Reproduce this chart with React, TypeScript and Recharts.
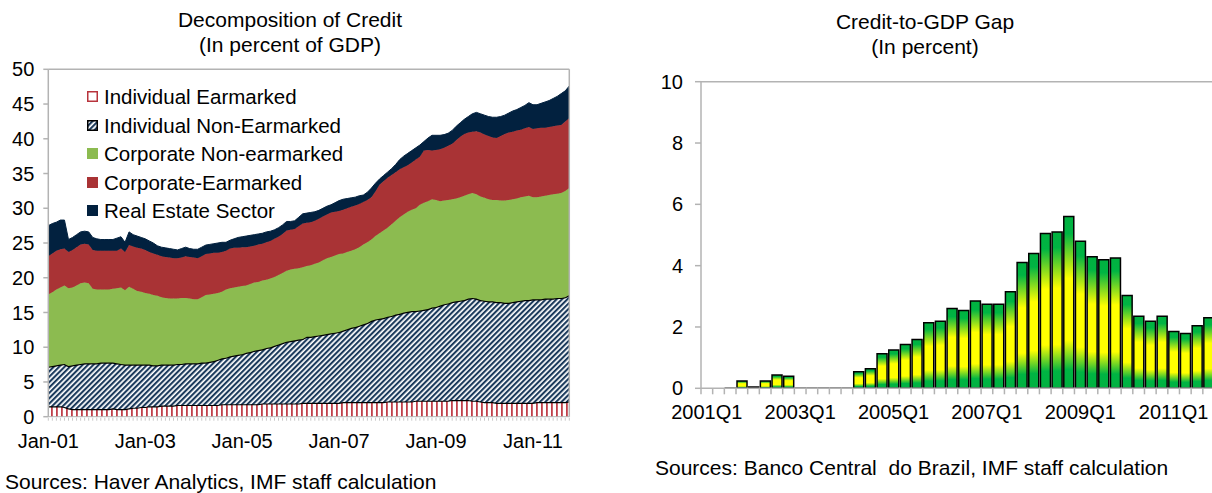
import React from 'react';
import { AreaChart, Area, BarChart, Bar, XAxis, YAxis, ReferenceLine } from 'recharts';

const FONT = '"Liberation Sans", Arial, sans-serif';

// ---- Decomposition of Credit (monthly, Jan-01 .. Oct-11) ----
const monthNames = ['Jan', 'Feb', 'Mar', 'Apr', 'May', 'Jun', 'Jul', 'Aug', 'Sep', 'Oct', 'Nov', 'Dec'];
const yearsShort = ['01', '02', '03', '04', '05', '06', '07', '08', '09', '10', '11'];
const months = yearsShort.flatMap((y) => monthNames.map((m) => `${m}-${y}`)).slice(0, 130);

// band values (bottom band), then top edge of each band above it
const indivEarmarked = [
  1.5, 1.5, 1.5, 1.5, 1.4, 1.2, 1.1, 1.1, 1.1, 1.1, 1.1, 1.1, 1.1, 1.1, 1.1, 1.1, 1.2, 1.1, 1.1, 1.1,
  1.2, 1.3, 1.3, 1.4, 1.4, 1.5, 1.5, 1.5, 1.6, 1.6, 1.6, 1.6, 1.7, 1.7, 1.7, 1.7, 1.7, 1.7, 1.7, 1.7,
  1.7, 1.7, 1.7, 1.8, 1.8, 1.8, 1.8, 1.8, 1.8, 1.8, 1.8, 1.8, 1.8, 1.9, 1.9, 1.9, 1.9, 1.9, 1.9, 1.9,
  1.9, 1.9, 1.9, 2.0, 2.0, 2.0, 2.0, 2.0, 2.0, 2.0, 2.0, 2.0, 2.0, 2.1, 2.1, 2.1, 2.1, 2.1, 2.1, 2.1,
  2.1, 2.1, 2.1, 2.1, 2.2, 2.2, 2.2, 2.2, 2.2, 2.2, 2.2, 2.3, 2.3, 2.3, 2.3, 2.3, 2.3, 2.3, 2.3, 2.3,
  2.4, 2.4, 2.4, 2.4, 2.4, 2.3, 2.3, 2.2, 2.1, 2.1, 2.1, 2.0, 2.0, 2.0, 2.0, 2.0, 2.0, 2.0, 2.0, 2.0,
  2.0, 2.1, 2.1, 2.1, 2.1, 2.1, 2.1, 2.1, 2.1, 2.2,
];
const indivNonEarmarkedTop = [
  7.2, 7.3, 7.4, 7.5, 7.6, 7.3, 7.4, 7.5, 7.6, 7.7, 7.7, 7.7, 7.7, 7.8, 7.8, 7.8, 7.8, 7.7, 7.6, 7.5,
  7.5, 7.5, 7.5, 7.5, 7.5, 7.5, 7.4, 7.4, 7.5, 7.5, 7.5, 7.5, 7.6, 7.6, 7.7, 7.7, 7.7, 7.7, 7.8, 7.8,
  7.9, 8.0, 8.2, 8.4, 8.5, 8.7, 8.8, 8.9, 9.0, 9.2, 9.3, 9.5, 9.6, 9.7, 9.9, 10.0, 10.2, 10.4, 10.6, 10.8,
  10.9, 11.0, 11.1, 11.2, 11.5, 11.5, 11.6, 11.7, 11.8, 11.9, 12.0, 12.1, 12.2, 12.4, 12.6, 12.8, 12.9, 13.1, 13.3, 13.5,
  13.8, 14.0, 14.1, 14.2, 14.4, 14.5, 14.7, 14.8, 15.0, 15.1, 15.2, 15.2, 15.3, 15.4, 15.5, 15.7, 15.8, 16.0, 16.2, 16.3,
  16.5, 16.6, 16.7, 16.8, 17.0, 17.1, 17.0, 16.8, 16.7, 16.6, 16.6, 16.5, 16.5, 16.4, 16.4, 16.5, 16.6, 16.7, 16.8, 16.8,
  16.9, 16.9, 16.9, 17.0, 17.0, 17.0, 17.1, 17.1, 17.2, 17.5,
];
const corpNonEarmarkedTop = [
  17.6, 17.9, 18.3, 18.6, 18.9, 18.5, 18.6, 18.9, 19.2, 19.3, 19.2, 18.4, 18.3, 18.3, 18.3, 18.3, 18.4, 18.5, 18.6, 18.2,
  18.7, 18.4, 18.1, 18.0, 17.8, 17.7, 17.5, 17.4, 17.2, 17.1, 17.0, 17.0, 17.0, 17.1, 17.1, 17.0, 16.9, 16.9, 17.2, 17.5,
  17.6, 17.7, 17.8, 18.0, 18.3, 18.5, 18.6, 18.7, 18.8, 18.9, 19.1, 19.3, 19.4, 19.6, 19.7, 19.9, 20.1, 20.4, 20.7, 21.0,
  21.2, 21.3, 21.35, 21.5, 21.7, 21.8, 22.0, 22.2, 22.5, 22.8, 23.0, 23.2, 23.4, 23.5, 23.7, 23.9, 24.1, 24.4, 24.8, 25.1,
  25.5, 26.0, 26.4, 26.8, 27.2, 27.7, 28.2, 28.7, 29.1, 29.5, 29.8, 30.0, 30.5, 30.8, 31.0, 31.3, 31.2, 31.0, 31.1, 31.2,
  31.3, 31.4, 31.6, 31.8, 32.0, 32.2, 32.0, 31.7, 31.5, 31.3, 31.2, 31.2, 31.1, 31.1, 31.2, 31.3, 31.4, 31.6, 31.7, 31.8,
  31.6, 31.6, 31.7, 31.8, 31.9, 32.0, 32.1, 32.2, 32.5, 32.9,
];
const corpEarmarkedTop = [
  23.1, 23.5, 23.9, 24.1, 24.2, 23.7, 24.0, 24.4, 24.8, 24.9, 24.8, 24.0, 23.9, 23.9, 23.9, 23.9, 23.9, 23.9, 24.2, 23.7,
  24.7, 24.5, 24.3, 24.2, 24.0, 23.7, 23.5, 23.3, 23.1, 23.0, 22.9, 22.8, 22.8, 22.9, 23.1, 23.0, 22.9, 22.8, 23.1, 23.4,
  23.5, 23.6, 23.6, 23.7, 23.9, 24.2, 24.3, 24.3, 24.4, 24.4, 24.5, 24.6, 24.8, 24.9, 25.1, 25.3, 25.6, 25.9, 26.3, 26.8,
  26.9, 27.0, 27.4, 27.8, 27.9, 28.0, 28.2, 28.5, 28.8, 29.1, 29.4, 29.5, 29.6, 29.8, 30.0, 30.2, 30.4, 30.6, 30.9, 31.2,
  31.6, 32.4, 33.4, 33.9, 34.4, 34.8, 35.2, 35.6, 35.9, 36.2, 36.6, 37.0, 37.4, 38.3, 38.4, 38.3, 38.4, 38.5, 38.7, 39.0,
  39.3, 39.8, 40.3, 40.7, 40.9, 41.0, 41.1, 40.9, 40.6, 40.4, 40.2, 40.1, 40.4, 40.7, 40.9, 41.0, 41.2, 41.3, 41.5, 41.7,
  41.4, 41.5, 41.6, 41.6, 41.7, 41.8, 41.9, 42.0, 42.5, 43.0,
];
const realEstateTop = [
  27.5, 27.8, 28.0, 28.3, 28.3, 25.5, 25.8, 26.2, 26.6, 26.7, 26.6, 25.8, 25.6, 25.5, 25.5, 25.5, 25.5, 25.7, 25.9, 25.1,
  26.6, 26.2, 26.0, 25.8, 25.6, 25.3, 25.0, 24.6, 24.4, 24.3, 24.2, 24.1, 24.0, 24.2, 24.4, 24.2, 24.1, 24.1, 24.4, 24.7,
  24.8, 24.9, 25.0, 25.1, 25.1, 25.4, 25.6, 25.8, 25.9, 26.0, 26.1, 26.2, 26.3, 26.4, 26.6, 26.7, 26.9, 27.2, 27.6, 28.1,
  28.1, 28.2, 28.7, 29.2, 29.3, 29.4, 29.5, 29.7, 30.0, 30.3, 30.5, 30.8, 31.1, 31.3, 31.4, 31.5, 31.6, 31.8, 31.9, 32.3,
  32.9, 33.6, 34.2, 34.7, 35.2, 35.7, 36.3, 37.0, 37.5, 37.9, 38.3, 38.7, 39.1, 39.6, 40.1, 40.5, 40.5, 40.5, 40.6, 40.8,
  41.2, 41.8, 42.3, 42.8, 43.2, 43.6, 43.8, 43.6, 43.4, 43.2, 43.1, 43.1, 43.2, 43.4, 43.7, 44.0, 44.2, 44.5, 44.8, 45.2,
  44.9, 44.9, 45.1, 45.3, 45.5, 45.8, 46.1, 46.5, 46.9, 47.6,
];
const creditTicks = [0, 5, 10, 15, 20, 25, 30, 35, 40, 45, 50];

const creditData = months.map((month, i) => ({
  month,
  indivEarmarked: indivEarmarked[i],
  indivNonEarmarked: +(indivNonEarmarkedTop[i] - indivEarmarked[i]).toFixed(2),
  corpNonEarmarked: +(corpNonEarmarkedTop[i] - indivNonEarmarkedTop[i]).toFixed(2),
  corpEarmarked: +(corpEarmarkedTop[i] - corpNonEarmarkedTop[i]).toFixed(2),
  realEstate: +(realEstateTop[i] - corpEarmarkedTop[i]).toFixed(2),
}));

const legendItems = [
  { name: 'Individual Earmarked', fill: '#fff', border: '#b8343c' },
  { name: 'Individual Non-Earmarked', fill: 'url(#hatchLegend)', border: '#000' },
  { name: 'Corporate Non-earmarked', fill: '#8cbb50', border: '#8cbb50' },
  { name: 'Corporate-Earmarked', fill: '#a93335', border: '#a93335' },
  { name: 'Real Estate Sector', fill: '#02213f', border: '#02213f' },
];

// ---- Credit-to-GDP gap (quarterly, 2001Q1 .. 2011Q4) ----
const gapYears = ['2001', '2002', '2003', '2004', '2005', '2006', '2007', '2008', '2009', '2010', '2011'];
const quarters = gapYears.flatMap((y) => ['Q1', 'Q2', 'Q3', 'Q4'].map((q) => `${y}${q}`));
const gapValues = [
  null, null, -0.05, 0.24, 0.04, 0.24, 0.43, 0.39, -0.05, -0.05, -0.05, -0.03,
  -0.03, 0.54, 0.64, 1.13, 1.25, 1.43, 1.59, 2.14, 2.19, 2.6, 2.54, 2.85,
  2.74, 2.74, 3.15, 4.1, 4.4, 5.05, 5.1, 5.6, 4.8, 4.29, 4.19, 4.25,
  3.03, 2.35, 2.19, 2.35, 1.85, 1.79, 2.04, 2.3,
];
const gapTicks = [0, 2, 4, 6, 8, 10];
const gapData = quarters.map((quarter, i) => ({ quarter, gap: gapValues[i] }));

const axisGrey = '#b3b3b3';

const CreditTick = (props: any) => {
  const { x, y, payload } = props;
  return (
    <g>
      <line x1={x} x2={x} y1={y + 1} y2={y + 4} stroke="#c8c8c8" strokeWidth={1} />
      {payload.index % 24 === 0 && (
        <text x={x} y={y + 31} textAnchor="middle" fontSize={20} fontFamily={FONT} fill="#000">
          {payload.value}
        </text>
      )}
    </g>
  );
};

const HALF_BAND = 513.5 / 44 / 2;
const GapTick = (props: any) => {
  const { x, y, payload } = props;
  return (
    <g>
      <line x1={x - HALF_BAND} x2={x - HALF_BAND} y1={y} y2={y + 6} stroke={axisGrey} strokeWidth={1.5} />
      {payload.index % 8 === 0 && (
        <text x={x} y={y + 31} textAnchor="middle" fontSize={20} fontFamily={FONT} fill="#000">
          {payload.value}
        </text>
      )}
    </g>
  );
};

const textStyle: React.CSSProperties = {
  position: 'absolute',
  fontFamily: FONT,
  color: '#000',
  whiteSpace: 'pre',
};

export default function App() {
  return (
    <div
      style={{
        position: 'fixed',
        left: 0,
        top: 0,
        width: 1212,
        height: 493,
        overflow: 'hidden',
        background: '#fff',
        fontFamily: FONT,
      }}
    >
      <svg width={0} height={0} style={{ position: 'absolute' }}>
        <defs>
          <pattern id="hatchLegend" patternUnits="userSpaceOnUse" width={3.8} height={3.8} patternTransform="rotate(45)">
            <rect width={3.8} height={3.8} fill="#fff" />
            <rect width={2.1} height={3.8} fill="#1b3a5c" />
          </pattern>
        </defs>
      </svg>

      {/* left chart */}
      <div style={{ ...textStyle, left: 90, top: 7, width: 400, textAlign: 'center', fontSize: 21, lineHeight: '25px' }}>
        {'Decomposition of Credit\n(In percent of GDP)'}
      </div>
      <div style={{ position: 'absolute', left: 0, top: 0 }}>
        <AreaChart width={572} height={470} data={creditData} margin={{ top: 69.3, right: 2.7, bottom: 0, left: 0 }}>
          <defs>
            <pattern id="vstripe" patternUnits="userSpaceOnUse" width={5} height={10}>
              <rect width={5} height={10} fill="#fff" />
              <rect x={1} width={1.8} height={10} fill="#c0404a" />
            </pattern>
            <pattern id="hatch" patternUnits="userSpaceOnUse" width={3.8} height={3.8} patternTransform="rotate(45)">
              <rect width={3.8} height={3.8} fill="#fff" />
              <rect width={2.1} height={3.8} fill="#1b3a5c" />
            </pattern>
          </defs>
          <XAxis
            dataKey="month"
            height={53.3}
            interval={0}
            tickSize={0}
            tickMargin={0}
            tickLine={false}
            axisLine={{ stroke: axisGrey, strokeWidth: 1 }}
            tick={<CreditTick />}
          />
          <YAxis
            width={48.3}
            domain={[0, 50]}
            ticks={creditTicks}
            interval={0}
            tickSize={5}
            tickMargin={9}
            axisLine={{ stroke: axisGrey, strokeWidth: 1.5 }}
            tickLine={{ stroke: axisGrey, strokeWidth: 1.5 }}
            tick={{ fontSize: 20, fontFamily: FONT, fill: '#000' }}
          />
          <ReferenceLine y={50} stroke={axisGrey} strokeWidth={1.5} />
          <ReferenceLine x={months[months.length - 1]} stroke={axisGrey} strokeWidth={1.5} />
          <Area
            type="linear"
            dataKey="indivEarmarked"
            name="Individual Earmarked"
            stackId="credit"
            fill="url(#vstripe)"
            fillOpacity={1}
            stroke="#000"
            strokeWidth={2.2}
            isAnimationActive={false}
          />
          <Area
            type="linear"
            dataKey="indivNonEarmarked"
            name="Individual Non-Earmarked"
            stackId="credit"
            fill="url(#hatch)"
            fillOpacity={1}
            stroke="#000"
            strokeWidth={2.4}
            isAnimationActive={false}
          />
          <Area
            type="linear"
            dataKey="corpNonEarmarked"
            name="Corporate Non-earmarked"
            stackId="credit"
            fill="#8cbb50"
            fillOpacity={1}
            stroke="#8cbb50"
            strokeWidth={1}
            isAnimationActive={false}
          />
          <Area
            type="linear"
            dataKey="corpEarmarked"
            name="Corporate-Earmarked"
            stackId="credit"
            fill="#a93335"
            fillOpacity={1}
            stroke="#a93335"
            strokeWidth={1}
            isAnimationActive={false}
          />
          <Area
            type="linear"
            dataKey="realEstate"
            name="Real Estate Sector"
            stackId="credit"
            fill="#02213f"
            fillOpacity={1}
            stroke="#02213f"
            strokeWidth={1}
            isAnimationActive={false}
          />
        </AreaChart>
      </div>
      {legendItems.map((item, i) => (
        <div key={item.name} style={{ ...textStyle, left: 87, top: 84 + i * 28.5, height: 25, display: 'flex', alignItems: 'center' }}>
          <svg width={11} height={11} style={{ marginRight: 6 }}>
            <rect x={0.75} y={0.75} width={9.5} height={9.5} fill={item.fill} stroke={item.border} strokeWidth={1.5} />
          </svg>
          <span style={{ fontSize: 20.5, lineHeight: '25px' }}>{item.name}</span>
        </div>
      ))}
      <div style={{ ...textStyle, left: 5, top: 472, fontSize: 21, lineHeight: '20px' }}>
        Sources: Haver Analytics, IMF staff calculation
      </div>

      {/* right chart */}
      <div style={{ ...textStyle, left: 725, top: 8.5, width: 400, textAlign: 'center', fontSize: 21, lineHeight: '25px' }}>
        {'Credit-to-GDP Gap\n(In percent)'}
      </div>
      <div style={{ position: 'absolute', left: 640, top: 0 }}>
        <BarChart
          width={574.5}
          height={440}
          data={gapData}
          margin={{ top: 81.7, right: 0, bottom: 0, left: 0 }}
          barCategoryGap={1}
        >
          <defs>
            <linearGradient id="gapGrad" x1="0" y1="0" x2="0" y2="1">
              <stop offset="0%" stopColor="#00b140" />
              <stop offset="10%" stopColor="#00b443" />
              <stop offset="36%" stopColor="#ffff00" />
              <stop offset="72%" stopColor="#ffff00" />
              <stop offset="89%" stopColor="#00b443" />
              <stop offset="100%" stopColor="#00b140" />
            </linearGradient>
          </defs>
          <XAxis
            dataKey="quarter"
            height={51.7}
            interval={0}
            tickSize={0}
            tickMargin={0}
            tickLine={false}
            axisLine={{ stroke: axisGrey, strokeWidth: 1.5 }}
            tick={<GapTick />}
          />
          <YAxis
            width={61}
            domain={[0, 10]}
            allowDataOverflow
            ticks={gapTicks}
            interval={0}
            tickSize={6}
            tickMargin={12}
            axisLine={{ stroke: axisGrey, strokeWidth: 1.5 }}
            tickLine={{ stroke: axisGrey, strokeWidth: 1.5 }}
            tick={{ fontSize: 20, fontFamily: FONT, fill: '#000' }}
          />
          <ReferenceLine y={10} stroke={axisGrey} strokeWidth={1.5} />
          <Bar dataKey="gap" fill="url(#gapGrad)" stroke="#000" strokeWidth={1.5} isAnimationActive={false} />
        </BarChart>
      </div>
      <div style={{ ...textStyle, left: 655, top: 456, fontSize: 21, lineHeight: '24px' }}>
        {'Sources: Banco Central  do Brazil, IMF staff calculation'}
      </div>
    </div>
  );
}
